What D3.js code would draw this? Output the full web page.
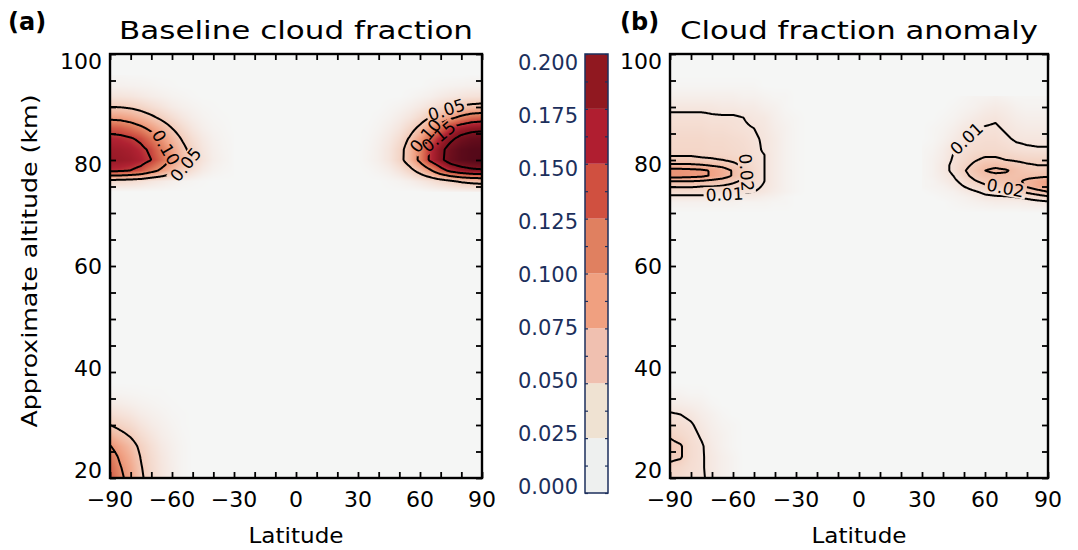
<!DOCTYPE html>
<html><head><meta charset="utf-8">
<script src="https://cdn.jsdelivr.net/npm/d3@7"></script>
<style>
body{margin:0;background:#fff;}
#wrap{position:relative;width:1078px;height:550px;}
svg{position:absolute;left:0;top:0;}
</style></head><body><div id="wrap"></div>
<script>
// ---------- axes ----------
const latTicks = [-90, -60, -30, 0, 30, 60, 90];
const latMinor = d3.range(-90, 91, 10);
const altTicks = [20, 40, 60, 80, 100];
const altMinor = d3.range(20, 101, 5);
const cbTicks = [0, 0.025, 0.05, 0.075, 0.1, 0.125, 0.15, 0.175, 0.2];
const cbMinor = d3.range(0, 0.2001, 0.0125);
const cbBandColors = ['#eef0ef', '#efe2d2', '#f0c0b0', '#f0a080', '#e08060', '#d05040', '#b01e30', '#901820'];

// ---------- baseline cloud fraction (panel a) ----------
// southern cloud deck near 80 km
const baseSouthLat = [-90, -85, -80, -75, -70, -65, -60, -55, -50, -45, -40, -35, -30];
const baseSouthAlt = [74, 76, 78, 80, 82, 84, 86, 88, 90, 92, 94, 96];
const baseSouthCF = [
  [0, 0, 0, 0, 0, 0, 0, 0, 0, 0, 0, 0, 0],
  [0.036, 0.034, 0.031, 0.026, 0.019, 0.014, 0.009, 0.005, 0.003, 0.001, 0, 0, 0],
  [0.158, 0.156, 0.149, 0.138, 0.114, 0.092, 0.067, 0.045, 0.026, 0.013, 0.006, 0.0025, 0.001],
  [0.180, 0.178, 0.174, 0.165, 0.150, 0.125, 0.095, 0.066, 0.041, 0.022, 0.010, 0.005, 0.001],
  [0.175, 0.173, 0.168, 0.158, 0.143, 0.115, 0.087, 0.060, 0.037, 0.019, 0.009, 0.004, 0.001],
  [0.162, 0.160, 0.154, 0.143, 0.120, 0.096, 0.070, 0.047, 0.028, 0.015, 0.007, 0.003, 0.001],
  [0.136, 0.132, 0.122, 0.108, 0.090, 0.070, 0.050, 0.032, 0.018, 0.009, 0.004, 0.002, 0],
  [0.091, 0.089, 0.082, 0.070, 0.057, 0.043, 0.029, 0.018, 0.010, 0.005, 0.002, 0.001, 0],
  [0.050, 0.049, 0.045, 0.038, 0.029, 0.021, 0.013, 0.008, 0.005, 0.002, 0.001, 0, 0],
  [0.022, 0.021, 0.019, 0.015, 0.011, 0.008, 0.005, 0.003, 0.001, 0, 0, 0, 0],
  [0.007, 0.007, 0.006, 0.005, 0.004, 0.002, 0.001, 0, 0, 0, 0, 0, 0],
  [0.002, 0.002, 0.001, 0.001, 0, 0, 0, 0, 0, 0, 0, 0, 0]
];
// northern cloud deck near 80 km
const baseNorthLat = [30, 35, 40, 45, 50, 55, 60, 65, 70, 75, 80, 85, 90];
const baseNorthAlt = [74, 76, 78, 80, 82, 84, 86, 88, 90, 92, 94, 96];
const baseNorthCF = [
  [0, 0, 0, 0, 0, 0, 0, 0.002, 0.003, 0.004, 0.005, 0.006, 0.007],
  [0, 0, 0, 0.002, 0.0045, 0.009, 0.016, 0.024, 0.034, 0.045, 0.055, 0.061, 0.064],
  [0, 0.001, 0.0045, 0.010, 0.021, 0.038, 0.063, 0.094, 0.132, 0.161, 0.178, 0.189, 0.193],
  [0, 0.0035, 0.009, 0.019, 0.038, 0.068, 0.110, 0.158, 0.190, 0.223, 0.239, 0.246, 0.249],
  [0, 0.003, 0.009, 0.019, 0.037, 0.067, 0.107, 0.156, 0.188, 0.219, 0.238, 0.245, 0.247],
  [0, 0.002, 0.007, 0.015, 0.029, 0.054, 0.087, 0.131, 0.167, 0.192, 0.215, 0.228, 0.232],
  [0, 0.001, 0.004, 0.010, 0.019, 0.035, 0.059, 0.089, 0.124, 0.156, 0.173, 0.183, 0.187],
  [0, 0, 0.002, 0.005, 0.011, 0.019, 0.032, 0.051, 0.071, 0.092, 0.110, 0.124, 0.129],
  [0, 0, 0, 0.002, 0.0045, 0.009, 0.015, 0.023, 0.033, 0.044, 0.054, 0.060, 0.063],
  [0, 0, 0, 0, 0, 0.002, 0.005, 0.008, 0.013, 0.017, 0.020, 0.023, 0.024],
  [0, 0, 0, 0, 0, 0, 0, 0.002, 0.0035, 0.005, 0.006, 0.007, 0.0075],
  [0, 0, 0, 0, 0, 0, 0, 0, 0, 0, 0, 0.001, 0.001]
];
// low-level southern cloud
const baseLowLat = [-90, -85, -80, -75, -70, -65, -60, -55, -50];
const baseLowAlt = [20, 22, 24, 26, 28, 30, 32, 34, 36, 38];
const baseLowCF = [
  [0.135, 0.108, 0.085, 0.055, 0.035, 0.020, 0.010, 0.003, 0],
  [0.128, 0.102, 0.081, 0.052, 0.033, 0.019, 0.010, 0.003, 0],
  [0.118, 0.094, 0.074, 0.048, 0.031, 0.018, 0.009, 0.003, 0],
  [0.102, 0.082, 0.064, 0.042, 0.027, 0.015, 0.008, 0.003, 0],
  [0.075, 0.060, 0.047, 0.031, 0.020, 0.011, 0.006, 0.002, 0],
  [0.050, 0.040, 0.032, 0.021, 0.013, 0.008, 0.004, 0.001, 0],
  [0.030, 0.024, 0.019, 0.012, 0.008, 0.005, 0.002, 0.001, 0],
  [0.015, 0.012, 0.009, 0.006, 0.004, 0.002, 0.001, 0, 0],
  [0.005, 0.004, 0.003, 0.002, 0.001, 0.001, 0, 0, 0],
  [0, 0, 0, 0, 0, 0, 0, 0, 0]
];

// ---------- cloud fraction anomaly (panel b) ----------
const anomSouthLat = [-90, -85, -80, -75, -70, -65, -60, -55, -50, -45, -40, -35, -30, -25];
const anomSouthAlt = [70, 72, 73, 74, 75, 76, 77, 78, 79, 80, 81, 82, 84, 86, 88, 90, 92, 94, 96];
const anomSouthCF = [
  [0, 0, 0, 0, 0, 0, 0, 0, 0, 0, 0, 0, 0, 0],
  [0.003, 0.003, 0.003, 0.003, 0.003, 0.003, 0.003, 0.002, 0.002, 0.002, 0.001, 0.001, 0, 0],
  [0.008, 0.008, 0.008, 0.008, 0.008, 0.007, 0.007, 0.006, 0.006, 0.004, 0.003, 0.001, 0, 0],
  [0.014, 0.014, 0.014, 0.014, 0.013, 0.013, 0.012, 0.011, 0.010, 0.008, 0.005, 0.003, 0.001, 0],
  [0.021, 0.021, 0.021, 0.020, 0.020, 0.019, 0.017, 0.015, 0.012, 0.009, 0.006, 0.003, 0.001, 0],
  [0.030, 0.030, 0.030, 0.029, 0.027, 0.025, 0.022, 0.018, 0.014, 0.010, 0.006, 0.003, 0.001, 0],
  [0.044, 0.044, 0.043, 0.042, 0.039, 0.035, 0.029, 0.022, 0.015, 0.010, 0.006, 0.003, 0.001, 0],
  [0.044, 0.044, 0.043, 0.042, 0.039, 0.035, 0.029, 0.022, 0.015, 0.010, 0.006, 0.003, 0.001, 0],
  [0.032, 0.032, 0.032, 0.031, 0.029, 0.027, 0.023, 0.018, 0.014, 0.010, 0.006, 0.003, 0.001, 0],
  [0.023, 0.023, 0.023, 0.022, 0.021, 0.020, 0.018, 0.016, 0.013, 0.010, 0.006, 0.003, 0.001, 0],
  [0.019, 0.019, 0.019, 0.018, 0.018, 0.017, 0.016, 0.014, 0.012, 0.010, 0.006, 0.003, 0.001, 0],
  [0.017, 0.017, 0.017, 0.017, 0.016, 0.016, 0.015, 0.014, 0.012, 0.009, 0.006, 0.003, 0.001, 0],
  [0.016, 0.016, 0.016, 0.016, 0.015, 0.015, 0.014, 0.013, 0.011, 0.009, 0.006, 0.003, 0.001, 0],
  [0.014, 0.014, 0.014, 0.014, 0.013, 0.013, 0.012, 0.011, 0.010, 0.008, 0.005, 0.003, 0.001, 0],
  [0.012, 0.012, 0.012, 0.012, 0.011, 0.011, 0.011, 0.010, 0.008, 0.007, 0.004, 0.002, 0.001, 0],
  [0.008, 0.008, 0.008, 0.008, 0.008, 0.007, 0.007, 0.006, 0.006, 0.004, 0.003, 0.001, 0, 0],
  [0.004, 0.004, 0.004, 0.004, 0.004, 0.004, 0.004, 0.003, 0.003, 0.002, 0.001, 0.001, 0, 0],
  [0.001, 0.001, 0.001, 0.001, 0.001, 0.001, 0.001, 0.001, 0.001, 0, 0, 0, 0, 0],
  [0, 0, 0, 0, 0, 0, 0, 0, 0, 0, 0, 0, 0, 0]
];
const anomNorthLat = [30, 35, 40, 45, 50, 55, 60, 65, 70, 75, 80, 85, 90];
const anomNorthAlt = [70, 72, 73, 74, 75, 76, 77, 78, 79, 80, 82, 84, 86, 88, 90, 92];
const anomNorthCF = [
  [0, 0, 0, 0, 0, 0, 0, 0, 0, 0, 0, 0, 0],
  [0, 0, 0, 0.001, 0.002, 0.003, 0.004, 0.005, 0.005, 0.005, 0.006, 0.007, 0.008],
  [0, 0, 0.001, 0.002, 0.003, 0.005, 0.008, 0.009, 0.009, 0.010, 0.012, 0.015, 0.018],
  [0, 0.001, 0.002, 0.003, 0.006, 0.009, 0.012, 0.013, 0.015, 0.018, 0.022, 0.026, 0.030],
  [0.001, 0.002, 0.003, 0.006, 0.010, 0.014, 0.018, 0.020, 0.022, 0.026, 0.031, 0.036, 0.040],
  [0.001, 0.002, 0.005, 0.008, 0.013, 0.019, 0.023, 0.025, 0.026, 0.028, 0.032, 0.036, 0.040],
  [0.001, 0.003, 0.006, 0.010, 0.017, 0.023, 0.027, 0.028, 0.028, 0.027, 0.027, 0.027, 0.028],
  [0.001, 0.003, 0.007, 0.012, 0.019, 0.025, 0.030, 0.032, 0.031, 0.027, 0.024, 0.023, 0.023],
  [0.001, 0.003, 0.007, 0.012, 0.017, 0.022, 0.027, 0.028, 0.026, 0.023, 0.021, 0.020, 0.020],
  [0.001, 0.003, 0.006, 0.011, 0.015, 0.019, 0.022, 0.022, 0.020, 0.019, 0.018, 0.018, 0.018],
  [0.001, 0.002, 0.005, 0.0095, 0.012, 0.014, 0.015, 0.015, 0.014, 0.012, 0.011, 0.0105, 0.0105],
  [0, 0.001, 0.003, 0.006, 0.0095, 0.012, 0.013, 0.013, 0.011, 0.009, 0.0085, 0.0085, 0.0085],
  [0, 0.001, 0.002, 0.004, 0.007, 0.009, 0.0105, 0.011, 0.009, 0.007, 0.006, 0.006, 0.006],
  [0, 0, 0.001, 0.002, 0.004, 0.006, 0.008, 0.009, 0.007, 0.005, 0.004, 0.004, 0.004],
  [0, 0, 0, 0.001, 0.002, 0.003, 0.005, 0.006, 0.005, 0.003, 0.002, 0.002, 0.002],
  [0, 0, 0, 0, 0.001, 0.002, 0.002, 0.003, 0.002, 0.001, 0.001, 0.001, 0.001]
];
const anomLowLat = [-90, -85, -80, -75, -70, -65, -60, -55];
const anomLowAlt = [20, 22, 24, 26, 28, 30, 32, 34, 36, 38];
const anomLowCF = [
  [0.016, 0.014, 0.012, 0.011, 0.008, 0.004, 0.002, 0],
  [0.018, 0.016, 0.013, 0.011, 0.007, 0.004, 0.002, 0],
  [0.022, 0.021, 0.014, 0.011, 0.007, 0.004, 0.002, 0],
  [0.023, 0.021, 0.014, 0.011, 0.006, 0.003, 0.001, 0],
  [0.019, 0.016, 0.013, 0.009, 0.005, 0.003, 0.001, 0],
  [0.014, 0.013, 0.011, 0.007, 0.004, 0.002, 0.001, 0],
  [0.011, 0.010, 0.008, 0.005, 0.003, 0.001, 0, 0],
  [0.006, 0.005, 0.004, 0.003, 0.001, 0, 0, 0],
  [0.002, 0.002, 0.001, 0.001, 0, 0, 0, 0],
  [0, 0, 0, 0, 0, 0, 0, 0]
];

// contour levels and the labelled contours
const baseLevels = [0.05, 0.10, 0.15, 0.20];
const anomLevels = [0.01, 0.02, 0.03, 0.04];
const baseLabels = [
  {level: 0.10, lat: -64, alt: 82, text: '0.10'},
  {level: 0.05, lat: -52.5, alt: 79, text: '0.05'},
  {level: 0.05, lat: 73, alt: 89, text: '0.05'},
  {level: 0.10, lat: 60, alt: 85.5, text: '0.10'},
  {level: 0.15, lat: 69, alt: 84.5, text: '0.15'}
];
const anomLabels = [
  {level: 0.02, lat: -50, alt: 77.7, text: '0.02'},
  {level: 0.01, lat: -64, alt: 72.8, text: '0.01'},
  {level: 0.01, lat: 52, alt: 83.8, text: '0.01'},
  {level: 0.02, lat: 69.5, alt: 74.5, text: '0.02'}
];

// ---------- drawing ----------
const W = 1078, H = 550;
const FONT = "'DejaVu Sans', sans-serif";
const NAVY = '#1c2f5c';

const svg = d3.select('#wrap').append('svg').attr('width', W).attr('height', H);
const defs = svg.append('defs');

// smooth shading ramp
const shade = d3.scaleLinear()
  .domain([0, 0.0125, 0.0375, 0.0625, 0.0875, 0.1125, 0.1375, 0.1625, 0.1875, 0.25])
  .range(['#f5f6f5', '#f5ebe6', '#f4d6c8', '#f2bea8', '#f0a184', '#e07f60', '#d05444', '#b02232', '#8c1622', '#520818'])
  .interpolate(d3.interpolateLab).clamp(true);
const LUT = d3.range(1024).map(i => d3.rgb(shade(i / 1023 * 0.25)));

function grid(lats, alts, vals) { return {lats, alts, vals}; }

function bilinear(g, lat, alt) {
  const {lats, alts, vals} = g;
  if (lat < lats[0] || lat > lats[lats.length - 1] || alt < alts[0] || alt > alts[alts.length - 1]) return 0;
  const i = Math.min(Math.max(d3.bisectRight(lats, lat) - 1, 0), lats.length - 2);
  const j = Math.min(Math.max(d3.bisectRight(alts, alt) - 1, 0), alts.length - 2);
  const tx = (lat - lats[i]) / (lats[i + 1] - lats[i]);
  const ty = (alt - alts[j]) / (alts[j + 1] - alts[j]);
  const a = vals[j][i], b = vals[j][i + 1], c = vals[j + 1][i], d = vals[j + 1][i + 1];
  return (1 - ty) * ((1 - tx) * a + tx * b) + ty * ((1 - tx) * c + tx * d);
}

const panels = [
  {id: 'a', left: 110, right: 482, top: 54, bottom: 478, gain: 1,
   grids: [grid(baseSouthLat, baseSouthAlt, baseSouthCF), grid(baseNorthLat, baseNorthAlt, baseNorthCF), grid(baseLowLat, baseLowAlt, baseLowCF)],
   levels: baseLevels, labels: baseLabels, tag: '(a)', tagX: 8, title: 'Baseline cloud fraction', titleLen: 354},
  {id: 'b', left: 670, right: 1048, top: 54, bottom: 478, gain: 2.2,
   grids: [grid(anomSouthLat, anomSouthAlt, anomSouthCF), grid(anomNorthLat, anomNorthAlt, anomNorthCF), grid(anomLowLat, anomLowAlt, anomLowCF)],
   levels: anomLevels, labels: anomLabels, tag: '(b)', tagX: 620, title: 'Cloud fraction anomaly', titleLen: 358}
];

const fmtLat = d => d < 0 ? '\u2212' + Math.abs(d) : String(d);

panels.forEach(p => {
  const w = p.right - p.left, h = p.bottom - p.top;
  const x = d3.scaleLinear().domain([-90, 90]).range([p.left, p.right]);
  const y = d3.scaleLinear().domain([20, 100]).range([p.bottom, p.top]);
  const yLab = d3.scaleLinear().domain([20, 100]).range([p.bottom - 7.5, p.top + 7.5]);

  // sample the field at pixel centres
  const values = new Float64Array(w * h);
  const cv = document.createElement('canvas');
  cv.width = w; cv.height = h;
  const ctx = cv.getContext('2d');
  const img = ctx.createImageData(w, h);
  for (let j = 0; j < h; j++) {
    const alt = y.invert(p.top + j + 0.5);
    for (let i = 0; i < w; i++) {
      const lat = x.invert(p.left + i + 0.5);
      let v = 0;
      for (const g of p.grids) v += bilinear(g, lat, alt);
      values[j * w + i] = v;
      const k = Math.max(0, Math.min(1023, Math.round(v * p.gain / 0.25 * 1023)));
      const c = LUT[k], o = (j * w + i) * 4;
      img.data[o] = c.r; img.data[o + 1] = c.g; img.data[o + 2] = c.b; img.data[o + 3] = 255;
    }
  }
  ctx.putImageData(img, 0, 0);
  svg.append('image').attr('x', p.left).attr('y', p.top).attr('width', w).attr('height', h)
    .attr('preserveAspectRatio', 'none').attr('href', cv.toDataURL());

  // contour lines
  const contours = d3.contours().size([w, h]).thresholds(p.levels)(values);
  const path = d3.geoPath(d3.geoIdentity().translate([p.left, p.top]));

  const mask = defs.append('mask').attr('id', 'lblmask-' + p.id)
    .attr('maskUnits', 'userSpaceOnUse').attr('x', 0).attr('y', 0).attr('width', W).attr('height', H);
  mask.append('rect').attr('width', W).attr('height', H).attr('fill', '#fff');

  svg.append('g').attr('mask', 'url(#lblmask-' + p.id + ')')
    .selectAll('path').data(contours).join('path')
    .attr('d', path).attr('fill', 'none').attr('stroke', '#000').attr('stroke-width', 2)
    .attr('stroke-linejoin', 'round');

  // contour labels, placed on the nearest point of their contour
  const lblG = svg.append('g');
  p.labels.forEach(L => {
    const geom = contours.find(c => Math.abs(c.value - L.level) < 1e-9);
    if (!geom) return;
    const tx = x(L.lat) - p.left, ty = y(L.alt) - p.top;
    let best = null;
    geom.coordinates.forEach(poly => poly.forEach(ring => {
      ring.forEach((pt, idx) => {
        if (pt[0] < 2 || pt[0] > w - 2 || pt[1] < 2 || pt[1] > h - 2) return;
        const d2 = (pt[0] - tx) ** 2 + (pt[1] - ty) ** 2;
        if (!best || d2 < best.d2) best = {d2, ring, idx};
      });
    }));
    if (!best) return;
    const n = best.ring.length;
    const pt = best.ring[best.idx];
    const a = best.ring[(best.idx - 5 + n) % n], b = best.ring[(best.idx + 5) % n];
    let ang = Math.atan2(b[1] - a[1], b[0] - a[0]) * 180 / Math.PI;
    if (ang > 90) ang -= 180;
    if (ang < -90) ang += 180;
    const px = p.left + pt[0], py = p.top + pt[1];
    const t = lblG.append('text').text(L.text)
      .attr('transform', `translate(${px},${py}) rotate(${ang})`)
      .attr('text-anchor', 'middle').attr('dy', '0.36em')
      .attr('font-family', FONT).attr('font-size', 17).attr('fill', '#000');
    const tw = t.node().getComputedTextLength();
    mask.append('rect').attr('x', -tw / 2 - 2).attr('y', -8).attr('width', tw + 4).attr('height', 16)
      .attr('transform', `translate(${px},${py}) rotate(${ang})`).attr('fill', '#000');
  });

  // inward ticks on all four sides
  const tickStyle = g => {
    g.select('.domain').remove();
    g.selectAll('.tick line').attr('stroke', '#000').attr('stroke-width', 1.8);
  };
  svg.append('g').attr('transform', `translate(0,${p.bottom})`)
    .call(d3.axisBottom(x).tickValues(latMinor).tickSize(-6).tickFormat('')).call(tickStyle);
  svg.append('g').attr('transform', `translate(0,${p.top})`)
    .call(d3.axisTop(x).tickValues(latMinor).tickSize(-6).tickFormat('')).call(tickStyle);
  svg.append('g').attr('transform', `translate(${p.left},0)`)
    .call(d3.axisLeft(y).tickValues(altMinor).tickSize(-6).tickFormat('')).call(tickStyle);
  svg.append('g').attr('transform', `translate(${p.right},0)`)
    .call(d3.axisRight(y).tickValues(altMinor).tickSize(-6).tickFormat('')).call(tickStyle);

  // frame
  svg.append('rect').attr('x', p.left).attr('y', p.top).attr('width', w).attr('height', h)
    .attr('fill', 'none').attr('stroke', '#000').attr('stroke-width', 2.4);

  // tick labels
  svg.append('g').selectAll('text').data(latTicks).join('text')
    .attr('x', d => x(d)).attr('y', 507).attr('text-anchor', 'middle')
    .attr('font-family', FONT).attr('font-size', 22).text(fmtLat);
  svg.append('g').selectAll('text').data(altTicks).join('text')
    .attr('x', p.left - 8).attr('y', d => yLab(d)).attr('dy', '0.36em').attr('text-anchor', 'end')
    .attr('font-family', FONT).attr('font-size', 22).text(d => d);

  // axis title and panel title
  svg.append('text').attr('x', (p.left + p.right) / 2).attr('y', 543).attr('text-anchor', 'middle')
    .attr('font-family', FONT).attr('font-size', 22).attr('textLength', 95).attr('lengthAdjust', 'spacingAndGlyphs')
    .text('Latitude');
  svg.append('text').attr('x', (p.left + p.right) / 2).attr('y', 39).attr('text-anchor', 'middle')
    .attr('font-family', FONT).attr('font-size', 25).attr('textLength', p.titleLen).attr('lengthAdjust', 'spacingAndGlyphs')
    .text(p.title);
  svg.append('text').attr('x', p.tagX).attr('y', 30)
    .attr('font-family', FONT).attr('font-size', 24).attr('font-weight', 'bold').text(p.tag);
});

// y-axis title
svg.append('text').attr('transform', 'translate(37,261) rotate(-90)').attr('text-anchor', 'middle')
  .attr('font-family', FONT).attr('font-size', 22).attr('textLength', 333).attr('lengthAdjust', 'spacingAndGlyphs')
  .text('Approximate altitude (km)');

// ---------- colour bar ----------
const cbL = 585, cbR = 608;
const cbY = d3.scaleLinear().domain([0, 0.2]).range([493, 54]);
const cbLab = d3.scaleLinear().domain([0, 0.2]).range([486.5, 62.5]);
const bands = d3.range(cbBandColors.length);
svg.append('g').selectAll('rect').data(bands).join('rect')
  .attr('x', cbL).attr('width', cbR - cbL)
  .attr('y', i => cbY(cbTicks[i + 1])).attr('height', i => cbY(cbTicks[i]) - cbY(cbTicks[i + 1]))
  .attr('fill', i => cbBandColors[i]);
const cbTickStyle = g => {
  g.select('.domain').remove();
  g.selectAll('.tick line').attr('stroke', NAVY).attr('stroke-width', 1.2);
};
svg.append('g').attr('transform', `translate(${cbL},0)`)
  .call(d3.axisLeft(cbY).tickValues(cbMinor).tickSize(-3).tickFormat('')).call(cbTickStyle);
svg.append('g').attr('transform', `translate(${cbR},0)`)
  .call(d3.axisRight(cbY).tickValues(cbMinor).tickSize(-3).tickFormat('')).call(cbTickStyle);
svg.append('rect').attr('x', cbL).attr('y', 54).attr('width', cbR - cbL).attr('height', 493 - 54)
  .attr('fill', 'none').attr('stroke', NAVY).attr('stroke-width', 1.5);
svg.append('g').selectAll('text').data(cbTicks).join('text')
  .attr('x', 578).attr('y', d => cbLab(d)).attr('dy', '0.36em').attr('text-anchor', 'end')
  .attr('font-family', FONT).attr('font-size', 21).attr('fill', NAVY).text(d3.format('.3f'));
</script></body></html>
